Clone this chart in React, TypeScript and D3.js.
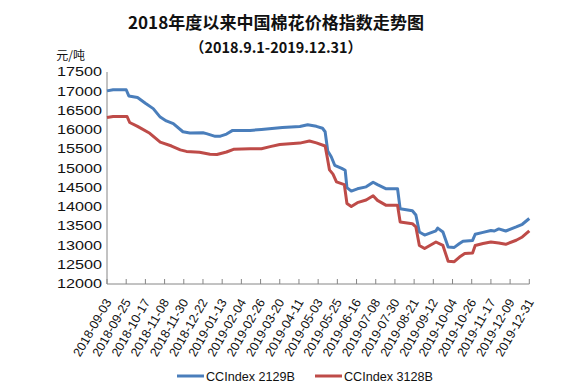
import React from "react";
import * as d3 from "d3";

const titleText = "2018年度以来中国棉花价格指数走势图";
const subtitleText = "（2018.9.1-2019.12.31）";
const unitText = "元/吨";

const yTicks = [12000, 12500, 13000, 13500, 14000, 14500, 15000, 15500, 16000, 16500, 17000, 17500];

const xTickLabels = [
  "2018-09-03", "2018-09-25", "2018-10-17", "2018-11-08", "2018-11-30", "2018-12-22",
  "2019-01-13", "2019-02-04", "2019-02-26", "2019-03-20", "2019-04-11", "2019-05-03",
  "2019-05-25", "2019-06-16", "2019-07-08", "2019-07-30", "2019-08-21", "2019-09-12",
  "2019-10-04", "2019-10-26", "2019-11-17", "2019-12-09", "2019-12-31",
];

const seriesNames = ["CCIndex 2129B", "CCIndex 3128B"];

const blueDates = [
  "2018-09-03", "2018-09-10", "2018-09-25", "2018-09-28", "2018-10-08", "2018-10-17",
  "2018-10-26", "2018-11-03", "2018-11-10", "2018-11-18", "2018-11-29", "2018-12-07",
  "2018-12-22", "2018-12-26", "2019-01-05", "2019-01-11", "2019-01-18", "2019-01-25",
  "2019-02-14", "2019-02-27", "2019-03-23", "2019-04-12", "2019-04-21", "2019-05-01",
  "2019-05-08", "2019-05-11", "2019-05-14", "2019-05-18", "2019-05-22", "2019-05-30",
  "2019-06-03", "2019-06-05", "2019-06-10", "2019-06-17", "2019-06-27", "2019-07-05",
  "2019-07-10", "2019-07-20", "2019-08-02", "2019-08-05", "2019-08-19", "2019-08-23",
  "2019-08-27", "2019-09-02", "2019-09-08", "2019-09-15", "2019-09-17", "2019-09-23",
  "2019-09-29", "2019-10-06", "2019-10-12", "2019-10-16", "2019-10-27", "2019-10-30",
  "2019-11-08", "2019-11-17", "2019-11-21", "2019-11-26", "2019-12-04", "2019-12-16",
  "2019-12-23", "2019-12-31",
];
const blueValues = [
  17010, 17040, 17040, 16880, 16840, 16690,
  16550, 16330, 16230, 16160, 15950, 15920,
  15925, 15900, 15830, 15835, 15890, 15985,
  15985, 16010, 16060, 16085, 16130, 16090,
  16040, 15950, 15450, 15300, 15080, 15000,
  14950, 14500, 14410, 14470, 14520, 14640,
  14580, 14470, 14470, 13950, 13900, 13790,
  13350, 13270, 13320, 13380, 13450, 13350,
  12960, 12950, 13050, 13110, 13130, 13290,
  13340, 13390, 13375, 13430, 13375, 13480,
  13550, 13700,
];

const redDates = [
  "2018-09-03", "2018-09-10", "2018-09-26", "2018-09-29", "2018-10-08", "2018-10-22",
  "2018-11-03", "2018-11-16", "2018-11-26", "2018-12-03", "2018-12-18", "2018-12-30",
  "2019-01-07", "2019-01-18", "2019-01-26", "2019-02-14", "2019-02-27", "2019-03-09",
  "2019-03-20", "2019-04-12", "2019-04-23", "2019-05-01", "2019-05-11", "2019-05-13",
  "2019-05-16", "2019-05-20", "2019-05-24", "2019-06-02", "2019-06-05", "2019-06-10",
  "2019-06-17", "2019-06-27", "2019-07-05", "2019-07-10", "2019-07-20", "2019-08-02",
  "2019-08-05", "2019-08-19", "2019-08-23", "2019-08-27", "2019-09-02", "2019-09-08",
  "2019-09-15", "2019-09-23", "2019-09-29", "2019-10-06", "2019-10-12", "2019-10-18",
  "2019-10-27", "2019-10-30", "2019-11-08", "2019-11-17", "2019-11-26", "2019-12-04",
  "2019-12-16", "2019-12-23", "2019-12-31",
];
const redValues = [
  16320, 16345, 16345, 16190, 16090, 15910,
  15680, 15580, 15480, 15440, 15420, 15365,
  15360, 15425, 15495, 15510, 15510, 15565,
  15620, 15655, 15710, 15660, 15580, 15340,
  14960, 14850, 14650, 14580, 14090, 14010,
  14110, 14180, 14290, 14170, 14040, 14040,
  13610, 13565, 13480, 13000, 12920, 13000,
  13090, 13000, 12590, 12580, 12700, 12790,
  12805, 13000, 13050, 13090, 13065, 13030,
  13135, 13220, 13380,
];

const parse = d3.utcParse("%Y-%m-%d");
const colors = ["#4A7EBB", "#BE4B48"];

export default function App() {
  const W = 566, H = 387;
  const x0 = 107, x1 = 529.3, yTop = 72, yBot = 284;
  const x = d3.scaleUtc()
    .domain([parse(xTickLabels[0])!, parse(xTickLabels[xTickLabels.length - 1])!])
    .range([x0, x1]);
  const y = d3.scaleLinear().domain([12000, 17500]).range([yBot, yTop]);

  const line = d3.line<[Date, number]>()
    .x((d) => x(d[0]))
    .y((d) => y(d[1]))
    .curve(d3.curveLinear);

  const blue = blueDates.map((d, i) => [parse(d)!, blueValues[i]] as [Date, number]);
  const red = redDates.map((d, i) => [parse(d)!, redValues[i]] as [Date, number]);

  const axisColor = "#868686";
  const fontLatin = "Arial, 'Liberation Sans', sans-serif";
  const fontCJK = "'Noto Sans CJK SC', 'Microsoft YaHei', sans-serif";

  return (
    <svg width={W} height={H} style={{ position: "absolute", left: 0, top: 0, background: "#fff" }}>
      <rect x={0} y={0} width={W} height={H} fill="#fff" />
      <text x={276} y={29} textAnchor="middle" fontFamily={fontCJK} fontWeight="bold" fontSize={16.5}
        fill="#111" textLength={296} lengthAdjust="spacingAndGlyphs">{titleText}</text>
      <text x={276} y={53} textAnchor="middle" fontFamily={fontCJK} fontWeight="bold" fontSize={14.5}
        fill="#111" textLength={172} lengthAdjust="spacingAndGlyphs">{subtitleText}</text>
      <text x={85} y={60} textAnchor="end" fontFamily={fontCJK} fontSize={12} fill="#111">{unitText}</text>

      {yTicks.map((t) => (
        <text key={t} x={102} y={y(t) + 4.3} textAnchor="end" fontFamily={fontLatin} fontSize={12}
          fill="#111" textLength={45} lengthAdjust="spacingAndGlyphs">{t}</text>
      ))}

      <line x1={x0} x2={x0} y1={yTop} y2={yBot} stroke={axisColor} strokeWidth={1} />
      <line x1={x0} x2={x1} y1={yBot} y2={yBot} stroke={axisColor} strokeWidth={1} />
      {xTickLabels.map((lab) => {
        const xx = x(parse(lab)!);
        return (
          <g key={lab}>
            <line x1={xx} x2={xx} y1={yBot} y2={yBot - 5} stroke={axisColor} strokeWidth={1} />
            <text transform={`translate(${xx + 5},${yBot + 18}) rotate(-60)`} textAnchor="end"
              fontFamily={fontLatin} fontSize={12.5} fill="#111" textLength={64}
              lengthAdjust="spacingAndGlyphs">{lab}</text>
          </g>
        );
      })}

      <path d={line(blue) || ""} fill="none" stroke={colors[0]} strokeWidth={3} strokeLinejoin="round" />
      <path d={line(red) || ""} fill="none" stroke={colors[1]} strokeWidth={3} strokeLinejoin="round" />

      {seriesNames.map((name, i) => {
        const lx = i === 0 ? 177 : 315;
        return (
          <g key={name}>
            <line x1={lx} x2={lx + 27} y1={376} y2={376} stroke={colors[i]} strokeWidth={3} />
            <text x={lx + 29} y={380.5} fontFamily={fontLatin} fontSize={12.5} fill="#111"
              textLength={89} lengthAdjust="spacingAndGlyphs">{name}</text>
          </g>
        );
      })}
    </svg>
  );
}
